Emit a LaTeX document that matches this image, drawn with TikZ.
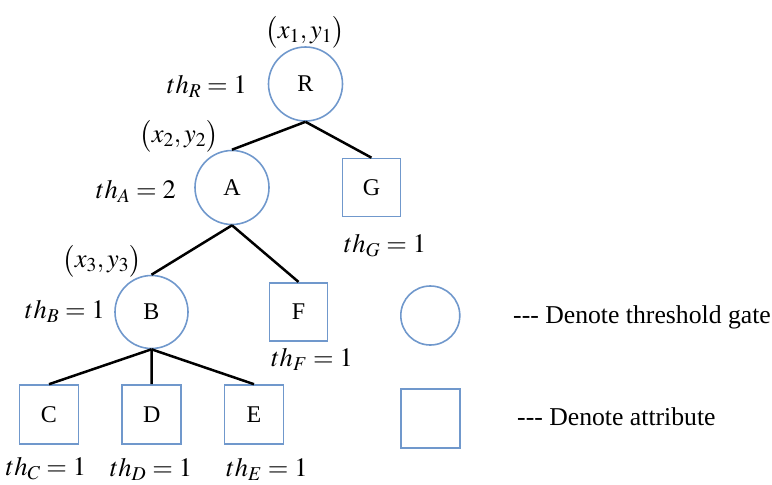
\documentclass[tikz,border=0pt]{standalone}
\usepackage{mathptmx}
\usepackage[no-math]{fontspec}
\setmainfont{Liberation Serif}
\definecolor{gateblue}{RGB}{112,152,204}
\begin{document}
\begin{tikzpicture}[x=1pt,y=-1pt,
  every node/.style={font=\fontsize{24}{28}\selectfont, inner sep=0pt},
  gate/.style={circle, draw=gateblue, line width=1.6pt, minimum size=74pt},
  attr/.style={rectangle, draw=gateblue, line width=1.6pt, minimum size=58pt},
  edge/.style={draw=black, line width=2.5pt},
  lbl/.style={anchor=center, font=\fontsize{26.5}{30}\selectfont},
  legtext/.style={anchor=west, font=\fontsize{25.7}{30}\selectfont}]
\useasboundingbox (0,0) rectangle (772,485);
% nodes
\node[gate] (R) at (305.5,84) {R};
\node[gate] (A) at (232,187.5) {A};
\node[gate, minimum size=73pt] (B) at (151.5,312) {B};
\node[attr] (G) at (371.5,187.5) {G};
\node[attr] (F) at (298.5,311.7) {F};
\node[attr, minimum size=59pt] (C) at (49,414.5) {C};
\node[attr, minimum size=59pt] (D) at (151.7,414.5) {D};
\node[attr, minimum size=59pt] (E) at (254,414.5) {E};
% edges
\draw[edge] (R.south) -- (A.north);
\draw[edge] (R.south) -- (G.north);
\draw[edge] (A.south) -- (B.north);
\draw[edge] (A.south) -- (F.north);
\draw[edge] (B.south) -- (C.north);
\draw[edge] (B.south) -- (D.north);
\draw[edge] (B.south) -- (E.north);
% labels
\node[lbl] (p1) at (305,32) {$\bigl(x_1,y_1\bigr)$};
\node[lbl] (tR) at (207,86) {$th_R=1$};
\node[lbl] (p2) at (179,136) {$\bigl(x_2,y_2\bigr)$};
\node[lbl] (tA) at (136,191) {$th_A=2$};
\node[lbl] (tG) at (385,246) {$th_G=1$};
\node[lbl] (p3) at (102,261) {$\bigl(x_3,y_3\bigr)$};
\node[lbl] (tB) at (65,311) {$th_B=1$};
\node[lbl] (tF) at (312,359) {$th_F=1$};
\node[lbl] (tC) at (46,469) {$th_C=1$};
\node[lbl] (tD) at (151,469) {$th_D=1$};
\node[lbl] (tE) at (267,469) {$th_E=1$};
% legend
\node[circle, draw=gateblue, line width=1.6pt, minimum size=59pt] (LG) at (430.3,315.5) {};
\node[rectangle, draw=gateblue, line width=1.6pt, minimum size=59pt] (LA) at (430.3,418.3) {};
\node[legtext] (LGt) at (513,317) {-{}-{}- Denote threshold gate};
\node[legtext] (LAt) at (517,417) {-{}-{}- Denote attribute};
\end{tikzpicture}
\end{document}
